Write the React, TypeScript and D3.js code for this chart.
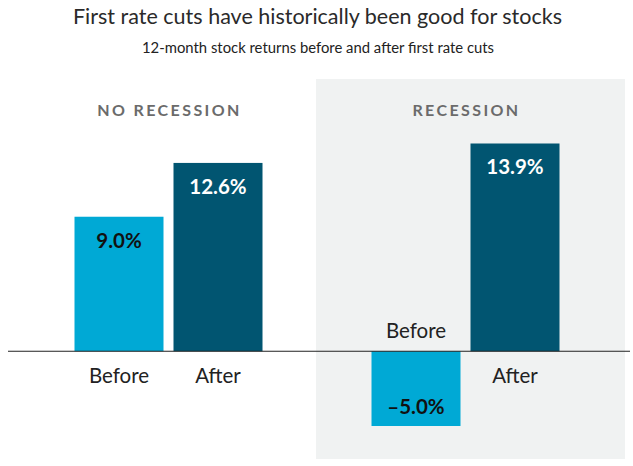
import { scaleBand, scaleLinear } from "d3"

const groups = ["NO RECESSION", "RECESSION"]
const periods = ["Before", "After"]
const noRecession = [9.0, 12.6]
const recession = [-5.0, 13.9]
const seriesByGroup = [noRecession, recession]

const W = 633
const H = 466
const FONT = "Lato, 'Open Sans', sans-serif"
const LIGHT = "#00a9d5"
const DARK = "#015571"

export default function App() {
  const xGroup = scaleBand<string>().domain(groups).range([20, 614]).padding(0)
  const xInner = scaleBand<string>()
    .domain(periods)
    .range([0, 188])
    .paddingInner(10 / 99)
    .paddingOuter(0)
  const y = scaleLinear().domain([-5, 14]).range([426, 142])
  const y0 = y(0)

  return (
    <div style={{ position: "fixed", left: 0, top: 0 }}>
      <svg width={W} height={H} style={{ display: "block", background: "#fff" }}>
        {/* shaded recession panel */}
        <rect x={316} y={79} width={309} height={380} fill="#f0f2f2" />

        <text
          x={317.5}
          y={24}
          textAnchor="middle"
          fontFamily={FONT}
          fontSize={20.5}
          fill="#2a2a2a"
          textLength={489}
          lengthAdjust="spacingAndGlyphs"
        >
          First rate cuts have historically been good for stocks
        </text>
        <text
          x={318}
          y={53}
          textAnchor="middle"
          fontFamily={FONT}
          fontSize={14.5}
          fill="#222"
          textLength={352}
          lengthAdjust="spacingAndGlyphs"
        >
          12-month stock returns before and after first rate cuts
        </text>

        {groups.map((g) => {
          const gx = (xGroup(g) ?? 0) + xGroup.bandwidth() / 2
          return (
            <text
              key={g}
              x={gx + 1}
              y={116}
              textAnchor="middle"
              fontFamily={FONT}
              fontWeight={700}
              fontSize={16}
              letterSpacing={2.4}
              fill="#6b6b6b"
            >
              {g}
            </text>
          )
        })}

        {groups.map((g, gi) => {
          const gx = (xGroup(g) ?? 0) + xGroup.bandwidth() / 2 - 94
          return seriesByGroup[gi].map((v, i) => {
            const p = periods[i]
            const bx = gx + (xInner(p) ?? 0)
            const bw = xInner.bandwidth()
            const top = Math.min(y(v), y0)
            const h = Math.abs(y(v) - y0)
            const cx = bx + bw / 2
            const labelY = v >= 0 ? y(v) + 31 : y(v) - 12
            const catY = v >= 0 ? y0 + 32 : y0 - 13
            const txt = (v < 0 ? "\u2013" + Math.abs(v).toFixed(1) : v.toFixed(1)) + "%"
            return (
              <g key={g + p}>
                <rect x={bx} y={top} width={bw} height={h} fill={i === 0 ? LIGHT : DARK} />
                <text
                  x={cx}
                  y={labelY}
                  textAnchor="middle"
                  fontFamily={FONT}
                  fontWeight={700}
                  fontSize={20.5}
                  fill={i === 0 ? "#111" : "#fff"}
                >
                  {txt}
                </text>
                <text x={cx} y={catY} textAnchor="middle" fontFamily={FONT} fontSize={20.5} fill="#222">
                  {p}
                </text>
              </g>
            )
          })
        })}

        <line x1={8} x2={630} y1={y0} y2={y0} stroke="#222" strokeWidth={1.2} />
      </svg>
    </div>
  )
}
